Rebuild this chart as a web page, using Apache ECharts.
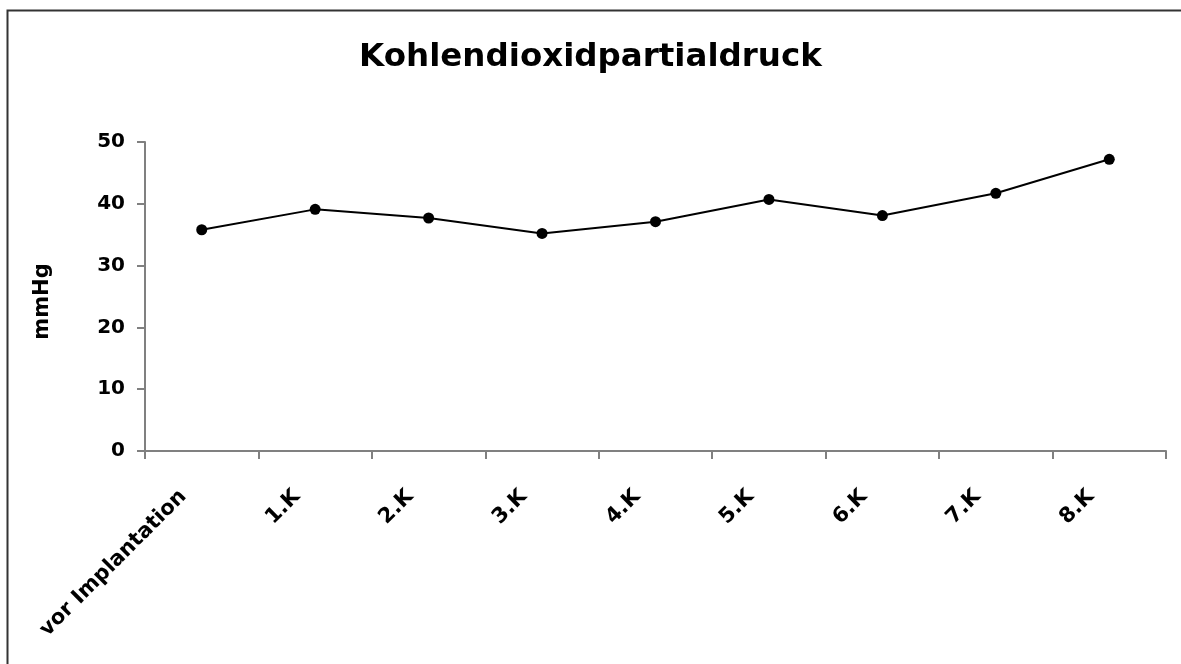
<!DOCTYPE html>
<html>
<head>
<meta charset="utf-8">
<script src="https://cdn.jsdelivr.net/npm/echarts@6/dist/echarts.min.js"></script>
<style>
  html, body { margin: 0; padding: 0; background: #fff; }
  #chart { width: 1181px; height: 664px; }
</style>
</head>
<body>
<div id="chart"></div>
<script>
// Zeitpunkte der Messung
const categories = ['vor Implantation', '1.K', '2.K', '3.K', '4.K', '5.K', '6.K', '7.K', '8.K'];
// pCO2 in mmHg
const pco2 = [35.8, 39.1, 37.7, 35.2, 37.1, 40.7, 38.1, 41.7, 47.2];
const yMin = 0;
const yMax = 50;
const yStep = 10;

const font = '"DejaVu Sans", Arial, sans-serif';
const chart = echarts.init(document.getElementById('chart'), null, { renderer: 'canvas' });

chart.setOption({
  backgroundColor: '#ffffff',
  animation: false,
  title: {
    text: 'Kohlendioxidpartialdruck',
    left: 'center',
    top: 36,
    textStyle: { fontFamily: font, fontSize: 32.5, fontWeight: 'bold', color: '#000' }
  },
  graphic: [{
    type: 'rect',
    shape: { x: 7.5, y: 10.5, width: 1300, height: 800 },
    style: { fill: 'none', stroke: '#333', lineWidth: 2 },
    silent: true
  }],
  grid: { left: 145, right: 15, top: 142, bottom: 213, containLabel: false },
  xAxis: {
    type: 'category',
    data: categories,
    boundaryGap: true,
    axisLine: { lineStyle: { color: '#808080', width: 2 } },
    axisTick: { show: true, length: 8, inside: false, lineStyle: { color: '#808080', width: 2 } },
    axisLabel: {
      rotate: 45,
      margin: 24,
      padding: [0, 26, 0, 0],
      interval: 0,
      fontFamily: font,
      fontSize: 21,
      fontWeight: 'bold',
      color: '#000'
    },
    splitLine: { show: false }
  },
  yAxis: {
    type: 'value',
    min: yMin,
    max: yMax,
    interval: yStep,
    name: 'mmHg',
    nameLocation: 'middle',
    nameGap: 92,
    nameRotate: 90,
    nameTextStyle: { fontFamily: font, fontSize: 21, fontWeight: 'bold', color: '#000', padding: [0, 10, 0, 0] },
    axisLine: { show: true, lineStyle: { color: '#808080', width: 2 } },
    axisTick: { show: true, length: 8, inside: false, lineStyle: { color: '#808080', width: 2 } },
    axisLabel: { margin: 20, fontFamily: font, fontSize: 20, fontWeight: 'bold', color: '#000' },
    splitLine: { show: false }
  },
  series: [{
    type: 'line',
    data: pco2,
    symbol: 'circle',
    symbolSize: 11,
    showAllSymbol: true,
    lineStyle: { color: '#000', width: 2 },
    itemStyle: { color: '#000' }
  }]
});
</script>
</body>
</html>
